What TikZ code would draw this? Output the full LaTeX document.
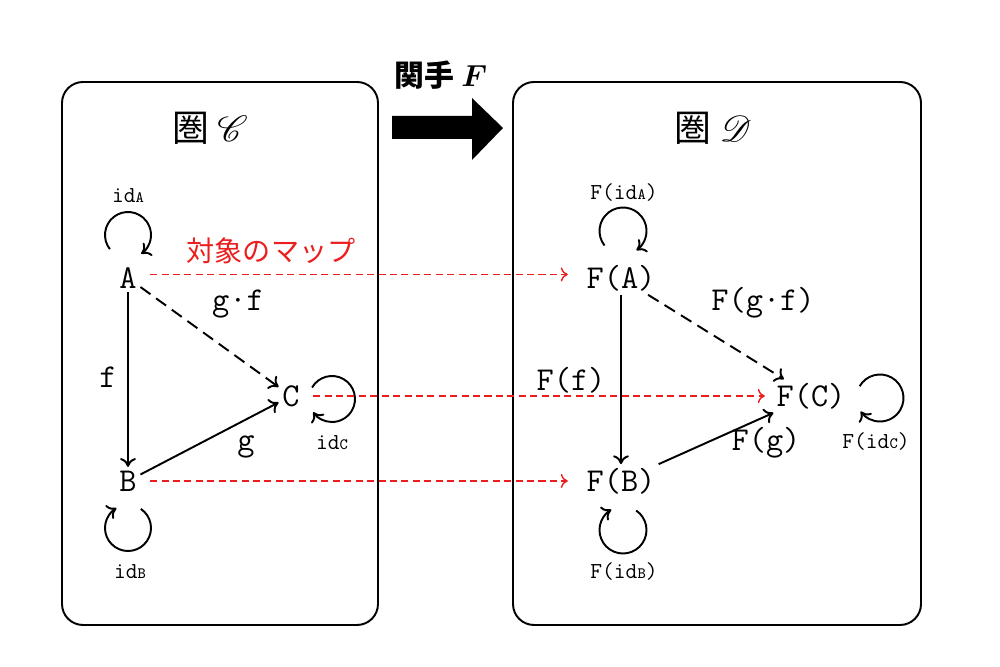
\documentclass[tikz,border=0pt]{standalone}
\usepackage{amsmath,amssymb}
\usepackage{bm}
\usepackage{mathrsfs}
\usepackage{fontspec}
\usepackage{xcolor}
\usepackage{tikz}
\usetikzlibrary{calc,arrows.meta,positioning}
\newfontfamily\cjk{Noto Sans CJK JP}
\definecolor{mapred}{RGB}{235,30,30}

\begin{document}
\begin{tikzpicture}[
    obj/.style={font=\ttfamily\fontsize{19}{22}\selectfont, inner sep=2pt},
    mor/.style={font=\ttfamily\fontsize{19}{22}\selectfont},
    idlab/.style={font=\ttfamily\fontsize{13}{15}\selectfont},
    arr/.style={-{To[length=5pt,width=9pt]}, line width=1.1pt},
    loopline/.style={-{To[length=5pt,width=9pt]}, line width=1.1pt},
    mapline/.style={-{To[length=4pt,width=8pt]}, mapred, line width=0.8pt, dash pattern=on 4pt off 2.5pt},
    catbox/.style={draw, line width=1.1pt, rounded corners=0.42cm}]
  \useasboundingbox (0,0) rectangle (20,13.34);
  % the two categories
  \draw[catbox] (1.24,0.84) rectangle (7.56,11.7);
  \draw[catbox] (10.26,0.84) rectangle (18.42,11.7);
  \node[font=\fontsize{21}{24}\selectfont] (tC) at (4.2,10.78) {\cjk 圏\ $\mathscr{C}$};
  \node[font=\fontsize{21}{24}\selectfont] (tD) at (14.26,10.78) {\cjk 圏\ $\mathscr{D}$};
  % functor arrow
  \fill (7.84,11.02) -- (9.44,11.02) -- (9.44,11.38) -- (10.06,10.78) -- (9.44,10.14) -- (9.44,10.56) -- (7.84,10.56) -- cycle;
  \node[font=\fontsize{17}{20}\selectfont] (fun) at (8.82,11.84) {\cjk\bfseries 関手 $\bm{F}$};

  % objects
  \node[obj] (A) at (2.56,7.78) {A};
  \node[obj] (B) at (2.56,3.72) {B};
  \node[obj] (C) at (5.82,5.42) {C};
  \node[obj] (FA) at (12.42,7.78) {F(A)};
  \node[obj] (FB) at (12.42,3.72) {F(B)};
  \node[obj] (FC) at (16.22,5.42) {F(C)};

  % morphisms in C
  \draw[arr] (A) -- (B);
  \draw[arr] (B) -- (C);
  \draw[arr, dash pattern=on 7pt off 4pt] (A) -- (C);
  \node[mor] (lf) at (2.16,5.8) {f};
  \node[mor] (lg) at (4.92,4.4) {g};
  \node[mor] (lgf) at (4.76,7.26) {g\textperiodcentered f};

  % morphisms in D
  \draw[arr] (FA) -- (FB);
  \draw[arr] (FB) -- (FC);
  \draw[arr, dash pattern=on 7pt off 4pt] (FA) -- (FC);
  \node[mor] (lFf) at (11.42,5.74) {F(f)};
  \node[mor] (lFg) at (15.32,4.48) {F(g)};
  \node[mor] (lFgf) at (15.26,7.28) {F(g\textperiodcentered f)};

  % identities
  \draw[loopline] ($(A)+(0,0.86)$) ++(218:0.46) arc[start angle=218, end angle=-55, radius=0.46];
  \draw[loopline] ($(B)+(0,-0.94)$) ++(56:0.46) arc[start angle=56, end angle=-240, radius=0.46];
  \draw[loopline] ($(C)+(0.82,-0.06)$) ++(150:0.46) arc[start angle=150, end angle=-145, radius=0.46];
  \draw[loopline] ($(FA)+(0.04,0.94)$) ++(218:0.47) arc[start angle=218, end angle=-55, radius=0.47];
  \draw[loopline] ($(FB)+(0.04,-0.98)$) ++(56:0.47) arc[start angle=56, end angle=-240, radius=0.47];
  \draw[loopline] ($(FC)+(1.38,-0.04)$) ++(150:0.47) arc[start angle=150, end angle=-145, radius=0.47];
  \node[idlab] (iA) at (2.56,9.42) {id{\fontsize{9}{10}\selectfont A}};
  \node[idlab] (iB) at (2.6,1.9) {id{\fontsize{9}{10}\selectfont B}};
  \node[idlab] (iC) at (6.64,4.48) {id{\fontsize{9}{10}\selectfont C}};
  \node[idlab] (iFA) at (12.48,9.48) {F(id{\fontsize{9}{10}\selectfont A})};
  \node[idlab] (iFB) at (12.48,1.9) {F(id{\fontsize{9}{10}\selectfont B})};
  \node[idlab] (iFC) at (17.52,4.5) {F(id{\fontsize{9}{10}\selectfont C})};

  % object map
  \draw[mapline, shorten <=5.5pt, shorten >=8.5pt] ([yshift=2pt]A.east) -- ([yshift=2pt]FA.west);
  \draw[mapline, shorten <=5.5pt, shorten >=4.5pt] (C.east) -- (FC.west);
  \draw[mapline, shorten <=5.5pt, shorten >=8.5pt] (B.east) -- (FB.west);
  \node[mapred, font=\fontsize{16}{19}\selectfont] (objmap) at (5.42,8.32) {\cjk 対象のマップ};
\end{tikzpicture}
\end{document}
